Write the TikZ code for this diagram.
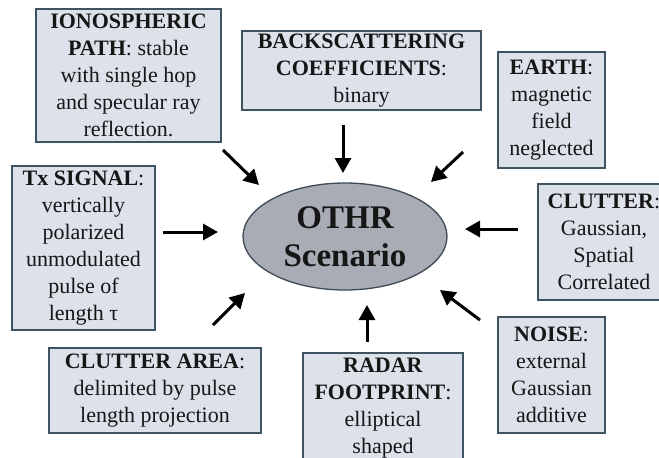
\documentclass[tikz,border=0pt]{standalone}
\usepackage{fontspec}
\setmainfont{Liberation Serif}
\usepackage{xcolor}
\usepackage{tikz}
\usetikzlibrary{arrows.meta,shapes.geometric}

\definecolor{boxfill}{HTML}{DDE1EA}
\definecolor{boxline}{HTML}{3F5360}
\definecolor{ellfill}{HTML}{A8ACB4}
\definecolor{ellline}{HTML}{3E4A55}
\definecolor{inktext}{HTML}{161616}

\tikzset{
  infobox/.style={draw=boxline, fill=boxfill, line width=1.3pt, inner sep=0pt,
    align=center, text=inktext, font=\fontsize{22}{27}\selectfont},
  hub/.style={ellipse, draw=ellline, fill=ellfill, line width=1.3pt, inner sep=0pt,
    minimum width=204pt, minimum height=107pt, align=center, text=inktext,
    font=\fontsize{33}{38}\selectfont\bfseries},
  feed/.style={->, line width=3pt, black}
}

\begin{document}
\begin{tikzpicture}[x=1pt, y=-1pt, >={Triangle[length=15pt,width=16pt]}]
  \clip (0,0) rectangle (659,458);
  \fill[white] (0,0) rectangle (659,458);

  % centre
  \node[hub] (othr) at (345,236.5) {OTHR\\Scenario};

  % surrounding assumptions
  \node[infobox, minimum width=185pt, minimum height=133pt] (iono) at (128.5,75.5)
       {\textbf{IONOSPHERIC}\\\textbf{PATH}: stable\\with single hop\\and specular ray\\reflection.};
  \node[infobox, minimum width=239pt, minimum height=79pt] (backsc) at (361.5,70.5)
       {\textbf{BACKSCATTERING}\\\textbf{COEFFICIENTS}:\\binary};
  \node[infobox, minimum width=107pt, minimum height=116pt] (earth) at (551.5,110)
       {\textbf{EARTH}:\\magnetic\\field\\neglected};
  \node[infobox, minimum width=132pt, minimum height=116pt] (clutter) at (604,242)
       {\textbf{CLUTTER}:\\Gaussian,\\Spatial\\Correlated};
  \node[infobox, minimum width=143pt, minimum height=164pt] (txsig) at (83.5,248)
       {\textbf{Tx SIGNAL}:\\vertically\\polarized\\unmodulated\\pulse of\\length τ};
  \node[infobox, minimum width=212pt, minimum height=85pt] (carea) at (155,390.5)
       {\textbf{CLUTTER AREA}:\\delimited by pulse\\length projection};
  \node[infobox, minimum width=160pt, minimum height=110pt] (footpr) at (383,408)
       {\textbf{RADAR}\\\textbf{FOOTPRINT}:\\elliptical\\shaped};
  \node[infobox, minimum width=107pt, minimum height=116pt] (noise) at (551.5,375)
       {\textbf{NOISE}:\\external\\Gaussian\\additive};

  % arrow ends
  \coordinate (iono-t) at (223,150);   \coordinate (iono-h) at (259,185);
  \coordinate (backsc-t) at (343,125); \coordinate (backsc-h) at (343,173);
  \coordinate (earth-t) at (463,152);  \coordinate (earth-h) at (431,182);
  \coordinate (clutter-t) at (518,229);\coordinate (clutter-h) at (465,229);
  \coordinate (txsig-t) at (163,232);  \coordinate (txsig-h) at (218,232);
  \coordinate (carea-t) at (213,325);  \coordinate (carea-h) at (245,293);
  \coordinate (footpr-t) at (367,342); \coordinate (footpr-h) at (367,305);
  \coordinate (noise-t) at (480,320);  \coordinate (noise-h) at (440,290);

  \foreach \src in {iono,backsc,earth,clutter,txsig,carea,footpr,noise}
    \draw[feed] (\src-t) -- (\src-h);
\end{tikzpicture}
\end{document}
